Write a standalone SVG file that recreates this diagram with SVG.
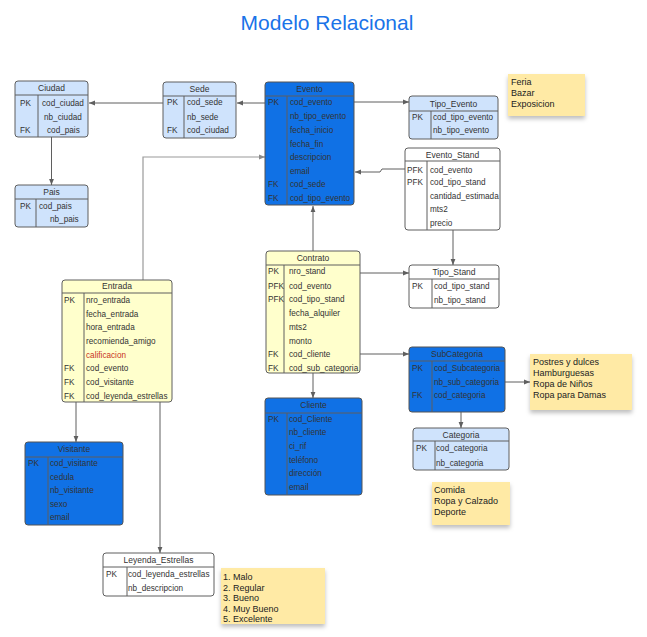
<svg xmlns="http://www.w3.org/2000/svg" width="647" height="637" viewBox="0 0 647 637">
<style>
.t{font-family:"Liberation Sans",Arial,sans-serif;font-size:8.2px;fill:#333}
.h{font-family:"Liberation Sans",Arial,sans-serif;font-size:8.5px;fill:#333;text-anchor:middle}
.n{font-family:"Liberation Sans",Arial,sans-serif;font-size:9px;fill:#222}
.lb{fill:#cfe3fc;stroke:#5f5f5f;stroke-width:1}
.db{fill:#1071e5;stroke:#555;stroke-width:1}
.ye{fill:#ffffcc;stroke:#5f5f5f;stroke-width:1}
.wh{fill:#ffffff;stroke:#5f5f5f;stroke-width:1}
.ln{stroke:#5f5f5f;stroke-width:1;fill:none}
.note{fill:#ffeaa5}
.c{stroke:#5f5f5f;stroke-width:1;fill:none;marker-end:url(#ah)}
.c2{stroke:#9a9a9a;stroke-width:1.2;fill:none;marker-end:url(#ah2)}
.red{fill:#c8341c}
</style>
<defs>
<marker id="ah" viewBox="0 0 10 10" refX="10" refY="5" markerWidth="6" markerHeight="6" orient="auto" markerUnits="userSpaceOnUse"><path d="M0,1 L10,5 L0,9 z" fill="#5f5f5f"/></marker>
<marker id="ah2" viewBox="0 0 10 10" refX="10" refY="5" markerWidth="6" markerHeight="6" orient="auto" markerUnits="userSpaceOnUse"><path d="M0,1 L10,5 L0,9 z" fill="#8a8a8a"/></marker>
<filter id="sh" x="-10%" y="-10%" width="130%" height="140%"><feDropShadow dx="0" dy="3" stdDeviation="2" flood-color="#000" flood-opacity="0.25"/></filter>
</defs>
<rect width="647" height="637" fill="#ffffff"/>
<text x="327" y="30" font-family="'Liberation Sans',Arial,sans-serif" font-size="21" fill="#1a73e8" text-anchor="middle">Modelo Relacional</text>

<g id="connectors">
<path class="c" d="M163,103 L89,103"/>
<path class="c" d="M51.5,137 L51.5,185"/>
<path class="c" d="M265,103 L237,103"/>
<path class="c" d="M354,102 L409,102"/>
<path class="c2" d="M143,280 L143,157 L265,157"/>
<path class="c" d="M405,169 L382,169 L380,172 L355,172"/>
<path class="c" d="M313,251 L313,206"/>
<path class="c" d="M453,230 L453,265"/>
<path class="c" d="M360,273 L409,273"/>
<path class="c" d="M360,354 L409,354"/>
<path class="c" d="M313,373 L313,398"/>
<path class="c" d="M505,382 L530,382"/>
<path class="c" d="M461,412 L461,428"/>
<path class="c" d="M76,402 L76,442"/>
<path class="c" d="M160,402 L160,553"/>
</g>

<g id="Ciudad">
<rect class="lb" x="15" y="81" width="73" height="56" rx="3"/>
<path class="ln" d="M15,95 H88 M38,95 V137"/>
<text class="h" x="51.5" y="91">Ciudad</text>
<text class="t" x="20" y="106">PK</text><text class="t" x="42" y="106">cod_ciudad</text>
<text class="t" x="44" y="120">nb_ciudad</text>
<text class="t" x="20" y="133">FK</text><text class="t" x="47" y="133">cod_pais</text>
</g>

<g id="Pais">
<rect class="lb" x="15" y="185" width="73" height="42" rx="3"/>
<path class="ln" d="M15,199 H88 M36,199 V227"/>
<text class="h" x="51.5" y="195">Pais</text>
<text class="t" x="20" y="209">PK</text><text class="t" x="39" y="209">cod_pais</text>
<text class="t" x="50" y="222">nb_pais</text>
</g>

<g id="Sede">
<rect class="lb" x="163" y="82" width="73" height="56" rx="3"/>
<path class="ln" d="M163,96 H236 M184,96 V138"/>
<text class="h" x="199.5" y="92">Sede</text>
<text class="t" x="167" y="105">PK</text><text class="t" x="187" y="105">cod_sede</text>
<text class="t" x="187" y="120">nb_sede</text>
<text class="t" x="167" y="133">FK</text><text class="t" x="187" y="133">cod_ciudad</text>
</g>

<g id="Evento">
<rect class="db" x="265" y="82" width="89" height="123" rx="3"/>
<path class="ln" d="M265,96 H354 M287,96 V205"/>
<text class="h" x="309.5" y="92">Evento</text>
<text class="t" x="268" y="105">PK</text><text class="t" x="290" y="105">cod_evento</text>
<text class="t" x="290" y="119">nb_tipo_evento</text>
<text class="t" x="290" y="133">fecha_inicio</text>
<text class="t" x="290" y="147">fecha_fin</text>
<text class="t" x="290" y="160">descripcion</text>
<text class="t" x="290" y="174">email</text>
<text class="t" x="268" y="187">FK</text><text class="t" x="290" y="187">cod_sede</text>
<text class="t" x="268" y="201">FK</text><text class="t" x="290" y="201">cod_tipo_evento</text>
</g>

<g id="Tipo_Evento">
<rect class="lb" x="409" y="96" width="89" height="43" rx="3"/>
<path class="ln" d="M409,111 H498 M431,111 V139"/>
<text class="h" x="453.5" y="107">Tipo_Evento</text>
<text class="t" x="412" y="120">PK</text><text class="t" x="433" y="120">cod_tipo_evento</text>
<text class="t" x="433" y="133">nb_tipo_evento</text>
</g>

<g id="note_evento">
<rect class="note" x="508" y="74" width="77" height="42" filter="url(#sh)"/>
<text class="n" x="511" y="85">Feria</text>
<text class="n" x="511" y="96">Bazar</text>
<text class="n" x="511" y="107">Exposicion</text>
</g>

<g id="Evento_Stand">
<rect class="wh" x="405" y="148" width="95" height="82" rx="3"/>
<path class="ln" d="M405,161 H500 M427,161 V230"/>
<text class="h" x="452.5" y="158">Evento_Stand</text>
<text class="t" x="407" y="173">PFK</text><text class="t" x="430" y="173">cod_evento</text>
<text class="t" x="407" y="185">PFK</text><text class="t" x="430" y="185">cod_tipo_stand</text>
<text class="t" x="430" y="199">cantidad_estimada</text>
<text class="t" x="430" y="212">mts2</text>
<text class="t" x="430" y="226">precio</text>
</g>

<g id="Tipo_Stand">
<rect class="wh" x="409" y="265" width="90" height="43" rx="3"/>
<path class="ln" d="M409,279 H499 M432,279 V308"/>
<text class="h" x="454" y="275">Tipo_Stand</text>
<text class="t" x="412" y="289">PK</text><text class="t" x="434" y="289">cod_tipo_stand</text>
<text class="t" x="434" y="303">nb_tipo_stand</text>
</g>

<g id="Contrato">
<rect class="ye" x="266" y="251" width="94" height="122" rx="3"/>
<path class="ln" d="M266,265 H360 M284,265 V373"/>
<text class="h" x="313" y="261">Contrato</text>
<text class="t" x="268" y="274">PK</text><text class="t" x="289" y="274">nro_stand</text>
<text class="t" x="268" y="289">PFK</text><text class="t" x="289" y="289">cod_evento</text>
<text class="t" x="268" y="302">PFK</text><text class="t" x="289" y="302">cod_tipo_stand</text>
<text class="t" x="289" y="316">fecha_alquiler</text>
<text class="t" x="289" y="330">mts2</text>
<text class="t" x="289" y="344">monto</text>
<text class="t" x="268" y="357">FK</text><text class="t" x="289" y="357">cod_cliente</text>
<text class="t" x="268" y="371">FK</text><text class="t" x="289" y="371">cod_sub_categoria</text>
</g>

<g id="SubCategoria">
<rect class="db" x="409" y="347" width="96" height="65" rx="3"/>
<path class="ln" d="M409,361 H505 M432,361 V412"/>
<text class="h" x="457" y="357">SubCategoria</text>
<text class="t" x="412" y="371">PK</text><text class="t" x="434" y="371">cod_Subcategoria</text>
<text class="t" x="434" y="385">nb_sub_categoria</text>
<text class="t" x="412" y="398">FK</text><text class="t" x="434" y="398">cod_categoria</text>
</g>

<g id="note_subcategoria">
<rect class="note" x="530" y="354" width="102" height="56" filter="url(#sh)"/>
<text class="n" x="533" y="365">Postres y dulces</text>
<text class="n" x="533" y="376">Hamburguesas</text>
<text class="n" x="533" y="387">Ropa de Niños</text>
<text class="n" x="533" y="397.5">Ropa para Damas</text>
</g>

<g id="Categoria">
<rect class="lb" x="413" y="428" width="96" height="42" rx="3"/>
<path class="ln" d="M413,441 H509 M435,441 V470"/>
<text class="h" x="461" y="438">Categoria</text>
<text class="t" x="416" y="451">PK</text><text class="t" x="436" y="451">cod_categoria</text>
<text class="t" x="436" y="466">nb_categoria</text>
</g>

<g id="note_categoria">
<rect class="note" x="432" y="482" width="78" height="43" filter="url(#sh)"/>
<text class="n" x="434" y="493">Comida</text>
<text class="n" x="434" y="504">Ropa y Calzado</text>
<text class="n" x="434" y="514.5">Deporte</text>
</g>

<g id="Cliente">
<rect class="db" x="265" y="398" width="97" height="97" rx="3"/>
<path class="ln" d="M265,413 H362 M287,413 V495"/>
<text class="h" x="313.5" y="408">Cliente</text>
<text class="t" x="268" y="422">PK</text><text class="t" x="289" y="422">cod_Cliente</text>
<text class="t" x="289" y="435">nb_cliente</text>
<text class="t" x="289" y="449">ci_rif</text>
<text class="t" x="289" y="463">teléfono</text>
<text class="t" x="289" y="476">dirección</text>
<text class="t" x="289" y="490">email</text>
</g>

<g id="Entrada">
<rect class="ye" x="62" y="280" width="110" height="122" rx="3"/>
<path class="ln" d="M62,293 H172 M84,293 V402"/>
<text class="h" x="117" y="289">Entrada</text>
<text class="t" x="64" y="303">PK</text><text class="t" x="86" y="303">nro_entrada</text>
<text class="t" x="86" y="317">fecha_entrada</text>
<text class="t" x="86" y="330">hora_entrada</text>
<text class="t" x="86" y="344">recomienda_amigo</text>
<text class="t red" x="86" y="358">calificacion</text>
<text class="t" x="64" y="371">FK</text><text class="t" x="86" y="371">cod_evento</text>
<text class="t" x="64" y="385">FK</text><text class="t" x="86" y="385">cod_visitante</text>
<text class="t" x="64" y="399">FK</text><text class="t" x="86" y="399">cod_leyenda_estrellas</text>
</g>

<g id="Visitante">
<rect class="db" x="25" y="442" width="98" height="83" rx="3"/>
<path class="ln" d="M25,457 H123 M48,457 V525"/>
<text class="h" x="74" y="452">Visitante</text>
<text class="t" x="28" y="466">PK</text><text class="t" x="50" y="466">cod_visitante</text>
<text class="t" x="50" y="480">cedula</text>
<text class="t" x="50" y="493">nb_visitante</text>
<text class="t" x="50" y="507">sexo</text>
<text class="t" x="50" y="520">email</text>
</g>

<g id="Leyenda_Estrellas">
<rect class="wh" x="103" y="553" width="111" height="43" rx="3"/>
<path class="ln" d="M103,567 H214 M127,567 V596"/>
<text class="h" x="158.5" y="563">Leyenda_Estrellas</text>
<text class="t" x="106" y="577">PK</text><text class="t" x="128" y="577">cod_leyenda_estrellas</text>
<text class="t" x="128" y="591">nb_descripcion</text>
</g>

<g id="note_leyenda">
<rect class="note" x="221" y="568" width="104" height="56" filter="url(#sh)"/>
<text class="n" x="223" y="580">1. Malo</text>
<text class="n" x="223" y="590.5">2. Regular</text>
<text class="n" x="223" y="601">3. Bueno</text>
<text class="n" x="223" y="611.5">4. Muy Bueno</text>
<text class="n" x="223" y="622">5. Excelente</text>
</g>
</svg>
